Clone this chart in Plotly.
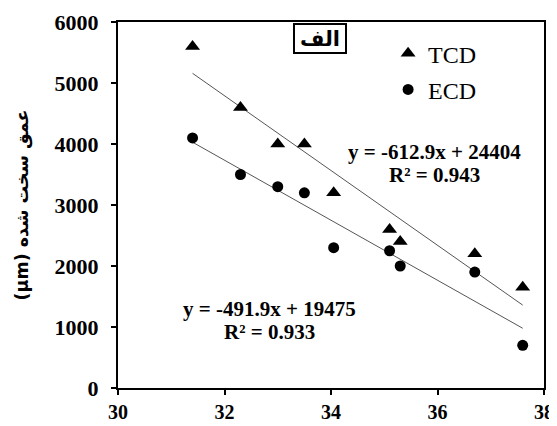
import plotly.graph_objects as go

x_vals = [31.4, 32.3, 33.0, 33.5, 34.05, 35.1, 35.3, 36.7, 37.6]
tcd = [5600, 4600, 4000, 4000, 3200, 2600, 2400, 2200, 1650]
ecd = [4100, 3500, 3300, 3200, 2300, 2250, 2000, 1900, 700]
tcd_fit = (-612.9, 24404)
ecd_fit = (-491.9, 19475)
tcd_eq = ["y = -612.9x + 24404", "R² = 0.943"]
ecd_eq = ["y = -491.9x + 19475", "R² = 0.933"]
y_title = "(μm) عمق سخت شده"
panel_label = "الف"

SERIF = "Liberation Serif"

fig = go.Figure()
xl = [min(x_vals), max(x_vals)]
fig.add_trace(go.Scatter(x=xl, y=[tcd_fit[0] * v + tcd_fit[1] for v in xl], mode="lines",
                         line=dict(color="#555555", width=1), showlegend=False, hoverinfo="skip"))
fig.add_trace(go.Scatter(x=xl, y=[ecd_fit[0] * v + ecd_fit[1] for v in xl], mode="lines",
                         line=dict(color="#555555", width=1), showlegend=False, hoverinfo="skip"))
fig.add_trace(go.Scatter(x=x_vals, y=tcd, mode="markers", name="TCD", legendgroup="a",
                         marker=dict(symbol="triangle-up", size=13, color="black")))
fig.add_trace(go.Scatter(x=x_vals, y=ecd, mode="markers", name="ECD", legendgroup="b",
                         marker=dict(symbol="circle", size=11, color="black")))

eq_font = dict(family=SERIF, size=21, color="black", weight="bold")
fig.add_annotation(x=35.95, y=3870, xref="x", yref="y", text=tcd_eq[0], showarrow=False, font=eq_font)
fig.add_annotation(x=35.95, y=3490, xref="x", yref="y", text=tcd_eq[1], showarrow=False, font=eq_font)
fig.add_annotation(x=32.85, y=1300, xref="x", yref="y", text=ecd_eq[0], showarrow=False, font=eq_font)
fig.add_annotation(x=32.85, y=920, xref="x", yref="y", text=ecd_eq[1], showarrow=False, font=eq_font)
fig.add_annotation(x=0.474, y=0.997, xref="paper", yref="paper", yanchor="top", text=panel_label,
                   showarrow=False, width=48, height=25,
                   font=dict(family="DejaVu Sans", size=21, color="black", weight="bold"),
                   bordercolor="black", borderwidth=2, borderpad=1, bgcolor="white")

axis_common = dict(showline=True, linecolor="black", linewidth=2, mirror=True,
                   ticks="outside", tickcolor="black", ticklen=5, tickwidth=2,
                   showgrid=False, zeroline=False, automargin=False)

# the page body has an 8px default margin, so the figure is shrunk by that offset
fig.update_layout(
    width=549, height=418,
    margin=dict(l=110, r=13, t=14, b=38),
    paper_bgcolor="white", plot_bgcolor="white",
    xaxis=dict(range=[30, 38], dtick=2, tick0=30, ticklabelstandoff=0,
               tickfont=dict(family=SERIF, size=20, color="black", weight="bold"), **axis_common),
    yaxis=dict(range=[0, 6000], dtick=1000, tick0=0, ticklabelstandoff=8,
               tickfont=dict(family=SERIF, size=22, color="black", weight="bold"),
               title=dict(text=y_title, standoff=21,
                          font=dict(family="DejaVu Sans", size=17.5, color="black", weight="bold")),
               **axis_common),
    legend=dict(x=0.634, y=0.975, xanchor="left", yanchor="top", bgcolor="rgba(0,0,0,0)",
                font=dict(family=SERIF, size=24, color="black"), tracegroupgap=2),
    showlegend=True,
)

fig.write_html("out.html")
